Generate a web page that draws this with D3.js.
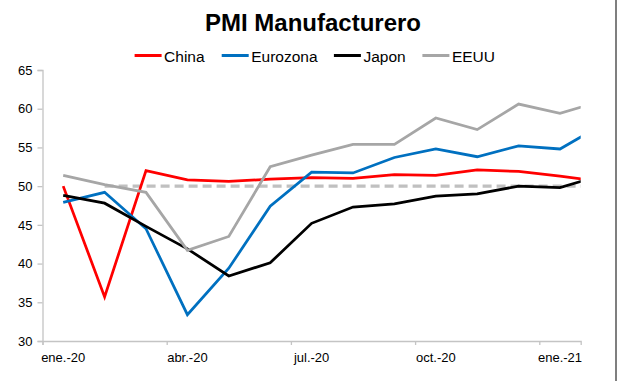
<!DOCTYPE html>
<html>
<head>
<meta charset="utf-8">
<script src="https://cdn.jsdelivr.net/npm/d3@7"></script>
<style>
  html, body { margin: 0; padding: 0; background: #ffffff; }
  svg { display: block; font-family: "Liberation Sans", Arial, sans-serif; }
</style>
</head>
<body>
<svg id="chart" width="617" height="381"></svg>
<script>
// ---- Data (Jan 2020 .. Feb 2021; last month is clipped at the plot edge) ----
const months = ["ene.-20","feb.-20","mar.-20","abr.-20","may.-20","jun.-20","jul.-20",
                "ago.-20","sep.-20","oct.-20","nov.-20","dic.-20","ene.-21","feb.-21"];
const china    = [50.0, 35.7, 52.0, 50.8, 50.6, 50.9, 51.1, 51.0, 51.5, 51.4, 52.1, 51.9, 51.3, 50.6];
const eurozona = [47.9, 49.2, 44.5, 33.4, 39.4, 47.4, 51.8, 51.7, 53.7, 54.8, 53.8, 55.2, 54.8, 57.9];
const japon    = [48.8, 47.8, 44.8, 41.9, 38.4, 40.1, 45.2, 47.3, 47.7, 48.7, 49.0, 50.0, 49.8, 51.4];
const eeuu     = [51.4, 50.2, 49.2, 41.7, 43.5, 52.5, 54.0, 55.4, 55.4, 58.8, 57.3, 60.6, 59.4, 61.0];
const ref50    = [null, 50, 50, 50, 50, 50, 50, 50, 50, 50, 50, 50, 50, 50];
const yTicks   = [30, 35, 40, 45, 50, 55, 60, 65];
const xTickLabels = ["ene.-20", "abr.-20", "jul.-20", "oct.-20", "ene.-21"];
const seriesNames = ["China", "Eurozona", "Japon", "EEUU"];

// ---- Styles ----
const colors = { China: "#ff0000", Eurozona: "#0070c0", Japon: "#000000", EEUU: "#a6a6a6" };
const axisColor = "#c4c4c4";

const svg = d3.select("#chart");
const plot = { left: 42.5, right: 580.7, top: 70, bottom: 341 };

const nShown = 13; // ene.-20 .. ene.-21 categories on the axis
const x = d3.scaleLinear().domain([-0.5, nShown - 0.5]).range([plot.left, plot.right]);
const y = d3.scaleLinear().domain([30, 65]).range([plot.bottom, plot.top]);

// Title
svg.append("text")
  .attr("x", 313).attr("y", 31)
  .attr("text-anchor", "middle")
  .attr("font-size", 24).attr("font-weight", "bold")
  .attr("fill", "#000")
  .text("PMI Manufacturero");

// Legend
const legendX = [134.6, 221.7, 333.9, 422.4];
const leg = svg.append("g");
seriesNames.forEach((name, i) => {
  leg.append("line")
    .attr("x1", legendX[i]).attr("x2", legendX[i] + 27)
    .attr("y1", 55.5).attr("y2", 55.5)
    .attr("stroke", colors[name]).attr("stroke-width", 3);
  leg.append("text")
    .attr("x", legendX[i] + 29.5).attr("y", 61.5)
    .attr("font-size", 15.5).attr("fill", "#000")
    .text(name);
});

// Y axis
const yAxis = d3.axisLeft(y).tickValues(yTicks).tickSize(5).tickPadding(5).tickFormat(d3.format("d"));
const gy = svg.append("g").attr("transform", `translate(${plot.left},0)`).call(yAxis);
gy.select(".domain").attr("stroke", axisColor).attr("stroke-width", 1.3);
gy.selectAll(".tick line").attr("stroke", axisColor).attr("stroke-width", 1.3);
gy.selectAll(".tick text").attr("font-size", 13).attr("fill", "#000")
  .attr("font-family", "Liberation Sans, Arial, sans-serif");

// X axis (ticks at category boundaries every 3 months)
const boundaryTicks = d3.range(0, nShown + 1, 3).map(i => i - 0.5);
const xAxis = d3.axisBottom(x).tickValues(boundaryTicks).tickSize(4).tickFormat("");
const gx = svg.append("g").attr("transform", `translate(0,${plot.bottom})`).call(xAxis);
gx.select(".domain").attr("stroke", axisColor).attr("stroke-width", 1.3);
gx.selectAll(".tick line").attr("stroke", axisColor).attr("stroke-width", 1.3);

// X labels centred on categories
svg.append("g").selectAll("text")
  .data(xTickLabels)
  .join("text")
  .attr("x", d => x(months.indexOf(d)))
  .attr("y", 362)
  .attr("text-anchor", "middle")
  .attr("font-size", 13).attr("fill", "#000")
  .text(d => d);

// Clip region
svg.append("clipPath").attr("id", "plotclip")
  .append("rect")
  .attr("x", plot.left).attr("y", plot.top - 5)
  .attr("width", plot.right - plot.left).attr("height", plot.bottom - plot.top + 5);

const lineGen = d3.line()
  .defined(d => d != null)
  .x((d, i) => x(i))
  .y(d => y(d));

const lines = svg.append("g").attr("clip-path", "url(#plotclip)");

// Reference line at 50
lines.append("path")
  .datum(ref50)
  .attr("d", lineGen)
  .attr("fill", "none")
  .attr("stroke", "#c0c0c0")
  .attr("stroke-width", 3.2)
  .attr("stroke-dasharray", "9,5");

const seriesData = { China: china, Eurozona: eurozona, Japon: japon, EEUU: eeuu };
["China", "Eurozona", "Japon", "EEUU"].forEach(name => {
  lines.append("path")
    .datum(seriesData[name])
    .attr("d", lineGen)
    .attr("fill", "none")
    .attr("stroke", colors[name])
    .attr("stroke-width", 2.75)
    .attr("stroke-linejoin", "miter");
});

// Right frame edge
svg.append("line")
  .attr("x1", 616).attr("x2", 616).attr("y1", 0).attr("y2", 381)
  .attr("stroke", "#555").attr("stroke-width", 1.5);
</script>
</body>
</html>
